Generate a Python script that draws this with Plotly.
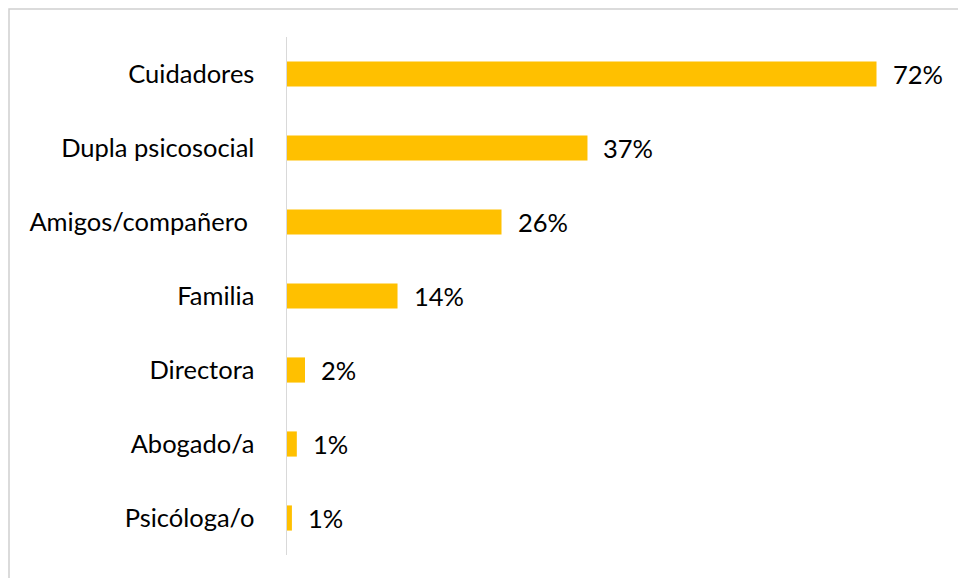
import plotly.graph_objects as go

categories = ["Cuidadores", "Dupla psicosocial", "Amigos/compañero\u00a0", "Familia",
              "Directora", "Abogado/a", "Psicóloga/o"]
values = [72.0, 36.7, 26.2, 13.5, 2.2, 1.2, 0.6]
value_labels = ["72%", "37%", "26%", "14%", "2%", "1%", "1%"]

W, H = 958, 578
ML, MR, MT, MB = 287, 16, 37, 23
pw = W - ML - MR
ph = H - MT - MB

font = "Lato"
fig = go.Figure()
fig.add_trace(go.Bar(
    x=values, y=categories, orientation="h",
    marker=dict(color="#FFC000", line=dict(width=0)),
    width=0.34, hoverinfo="skip",
))
for v, lab, c in zip(values, value_labels, categories):
    fig.add_annotation(x=v, y=c, text=lab, showarrow=False, xanchor="left",
                       xshift=14, font=dict(family=font, size=25.5, color="#000000"))

# outer border (top & left visible)
fig.add_shape(type="rect", xref="paper", yref="paper",
              x0=(9 - ML) / pw, x1=(W + 20 - ML) / pw,
              y0=-(H + 20 - (H - MB)) / ph, y1=1 + (MT - 9) / ph,
              line=dict(color="#d0d0d0", width=1.5), fillcolor="rgba(0,0,0,0)", layer="below")

fig.update_layout(
    width=W, height=H,
    margin=dict(l=ML, r=MR, t=MT, b=MB, pad=0),
    paper_bgcolor="white", plot_bgcolor="white",
    showlegend=False,
    bargap=0.66,
    xaxis=dict(range=[0, 80], visible=False, fixedrange=True),
    yaxis=dict(autorange="reversed", showline=True, linecolor="#d9d9d9", linewidth=1.5,
               ticks="", showgrid=False, ticklabelstandoff=26, fixedrange=True,
               tickfont=dict(family=font, size=25.5, color="#000000")),
)
fig.write_html("out.html", config={"displayModeBar": False, "staticPlot": True},
               post_script="document.body.style.margin='0';document.body.style.overflow='hidden';window.dispatchEvent(new Event('resize'));")
